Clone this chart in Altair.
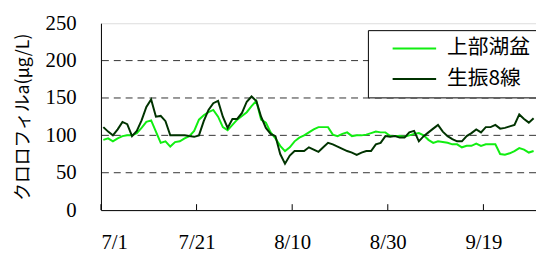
import altair as alt
import pandas as pd

# Daily values, 7/1 .. 9/29 (2000 used as a nominal year)
first_day = "2000-07-01 12:00"
upper_basin = [
    94, 96, 92, 96, 99, 100, 100, 103, 110, 118,
    120, 105, 90, 92, 85, 91, 92, 96, 99, 106,
    121, 127, 131, 134, 125, 111, 107, 114, 121, 126,
    131, 139, 146, 121, 117, 104, 96, 86, 79, 84,
    92, 97, 100, 104, 108, 111, 111, 111, 101, 99,
    102, 104, 99, 100, 100, 101, 103, 105, 104, 104,
    99, 99, 99, 98, 100, 102, 103, 100, 94, 90,
    92, 91, 90, 88, 88, 84, 86, 86, 89, 86,
    88, 88, 88, 75, 74, 76, 79, 83, 81, 77, 79,
]
ofuri8 = [
    111, 105, 100, 108, 118, 115, 99, 106, 120, 138,
    148, 125, 126, 119, 100, 100, 100, 100, 99, 98,
    100, 119, 134, 143, 146, 125, 110, 122, 122, 130,
    145, 152, 146, 125, 110, 102, 99, 75, 62, 73,
    79, 79, 79, 84, 81, 78, 84, 90, 88, 85,
    82, 79, 77, 74, 77, 79, 79, 88, 90, 99,
    98, 99, 97, 97, 104, 106, 92, 99, 104, 109,
    114, 105, 99, 95, 92, 92, 99, 103, 108, 104,
    111, 111, 114, 109, 110, 112, 114, 128, 122, 117, 123,
]
series_names = ["上部湖盆", "生振8線"]
series_colors = ["#11ee11", "#003300"]
tick_dates = ["2000-07-01", "2000-07-21", "2000-08-10", "2000-08-30", "2000-09-19"]
y_ticks = [0, 50, 100, 150, 200, 250]
grid_values = [50, 100, 150, 200]

dates = pd.date_range(first_day, periods=len(upper_basin), freq="D").strftime("%Y-%m-%dT%H:%M:%S")
df = pd.DataFrame({
    "date": list(dates) + list(dates),
    "value": upper_basin + ofuri8,
    "series": [series_names[0]] * len(upper_basin) + [series_names[1]] * len(ofuri8),
})
ticks_df = pd.DataFrame({"date": [d + "T00:00:00" for d in tick_dates]})
grid_df = pd.DataFrame({"v": grid_values})

W, H = 440, 189
serif = "Liberation Serif"
cjk = "Noto Sans CJK JP"

x_scale = alt.Scale(domain=[alt.DateTime(year=2000, month=7, date=1),
                            alt.DateTime(year=2000, month=9, date=30)])
y_scale = alt.Scale(domain=[0, 250], nice=False)

x_axis = alt.Axis(
    values=[alt.DateTime(year=2000, month=int(d[5:7]), date=int(d[8:10])) for d in tick_dates],
    format="%-m/%-d", ticks=False, grid=False, domainColor="black", domainWidth=1,
    labelFont=serif, labelFontSize=21, labelColor="black", labelPadding=22, title=None,
)
y_axis = alt.Axis(
    values=y_ticks, ticks=False, grid=False, domainColor="black", domainWidth=1,
    labelFont=serif, labelFontSize=21, labelColor="black", labelPadding=25,
    title="クロロフィルa(μg/L)", titleFont=cjk, titleFontSize=18, titleFontWeight="normal",
    titleColor="black", titleX=-78, titleY=H / 2, titleAngle=270,
    titleBaseline="middle", titleAlign="center",
)

grid = alt.Chart(grid_df).mark_rule(color="#333333", strokeWidth=1, strokeDash=[7, 5]).encode(
    y=alt.Y("v:Q", scale=y_scale, axis=y_axis)
)

xticks = alt.Chart(ticks_df).mark_rule(color="black", strokeWidth=1).encode(
    x=alt.X("date:T", scale=x_scale, axis=x_axis),
    y=alt.value(H), y2=alt.value(H - 6),
)

lines = alt.Chart(df).mark_line(strokeWidth=2).encode(
    x=alt.X("date:T", scale=x_scale, axis=x_axis),
    y=alt.Y("value:Q", scale=y_scale, axis=y_axis),
    color=alt.Color("series:N", sort=series_names,
                    scale=alt.Scale(domain=series_names, range=series_colors),
                    legend=alt.Legend(
                        orient="none", legendX=270, legendY=7, title=None,
                        strokeColor="black", fillColor="white", padding=8,
                        symbolType="M-7,0L1,0", symbolSize=121, symbolStrokeWidth=2,
                        symbolOffset=45, labelOffset=6, labelFont=cjk, labelFontSize=21,
                        labelColor="black", rowPadding=9, labelLimit=300, cornerRadius=0,
                    )),
    order=alt.Order("series:N"),
)

chart = alt.layer(grid, xticks, lines).properties(
    width=W, height=H,
    autosize=alt.AutoSizeParams(type="none"),
    padding={"left": 94, "top": 14, "right": 0, "bottom": 44},
).configure_view(stroke="black", strokeWidth=1).configure(background="white")

chart.save("out.html", embed_options={"renderer": "svg", "actions": False})
